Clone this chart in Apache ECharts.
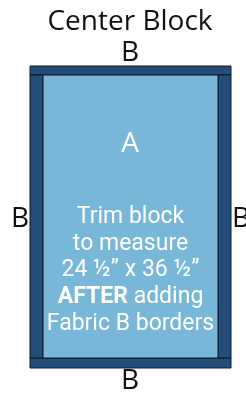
<!DOCTYPE html>
<html>
<head>
<meta charset="utf-8">
<script src="https://cdn.jsdelivr.net/npm/echarts@6/dist/echarts.min.js"></script>
<style>
  html, body { margin: 0; padding: 0; background: #fff; }
  #chart { width: 246px; height: 396px; }
</style>
</head>
<body>
<div id="chart"></div>
<script>
// block pieces in layout units: [x0, y0, x1, y1, fabric]
var pieces = [
    [0, 0, 201, 9, 'B'],
    [0, 292, 201, 302, 'B'],
    [0, 9, 13, 292, 'B'],
    [188, 9, 201, 292, 'B'],
    [13, 9, 188, 292, 'A']
];
var fabricColors = {A: '#79b7d9', B: '#234d7a'};

// labels: [x, y, text, size, color]
var labels = [
    [100, -44, 'Center Block', 28, '#111'],
    [100, -13, 'B', 28, '#111'],
    [100, 315, 'B', 28, '#111'],
    [-10, 153, 'B', 28, '#111'],
    [211, 153, 'B', 28, '#111'],
    [100, 78, 'A', 28, '#fff']
];
var noteLines = ['Trim block', 'to measure', '24 \u00bd\u201d x 36 \u00bd\u201d', '{b|AFTER} adding', 'Fabric B borders'];
var noteY = [151, 178, 204, 231, 258];

var chart = echarts.init(document.getElementById('chart'), null, {renderer: 'canvas'});

var option = {
    animation: false,
    grid: {left: 30, top: 66, width: 201, height: 302},
    xAxis: {type: 'value', min: 0, max: 201, show: false},
    yAxis: {type: 'value', min: 0, max: 302, inverse: true, show: false},
    series: [
        {
            type: 'custom',
            data: pieces,
            renderItem: function (params, api) {
                var p0 = api.coord([api.value(0), api.value(1)]);
                var p1 = api.coord([api.value(2), api.value(3)]);
                var d = pieces[params.dataIndex];
                return {
                    type: 'rect',
                    shape: {x: p0[0], y: p0[1], width: p1[0] - p0[0], height: p1[1] - p0[1]},
                    style: {fill: fabricColors[d[4]], stroke: '#0d1a26', lineWidth: 1}
                };
            }
        },
        {
            type: 'custom',
            clip: false,
            data: labels,
            renderItem: function (params, api) {
                var d = labels[params.dataIndex];
                var p = api.coord([d[0], d[1]]);
                return {
                    type: 'text',
                    x: p[0], y: p[1],
                    style: {
                        text: d[2], fill: d[4], fontSize: d[3],
                        fontFamily: 'Open Sans', align: 'center', verticalAlign: 'middle'
                    }
                };
            }
        },
        {
            type: 'custom',
            clip: false,
            data: noteY,
            renderItem: function (params, api) {
                var i = params.dataIndex;
                var p = api.coord([100.5, noteY[i]]);
                return {
                    type: 'text',
                    x: p[0], y: p[1],
                    style: {
                        text: noteLines[i], fill: '#fff', fontSize: 23,
                        fontFamily: 'Roboto', align: 'center', verticalAlign: 'middle',
                        rich: {b: {fontWeight: 'bold', fontSize: 23, fontFamily: 'Roboto', fill: '#fff'}}
                    }
                };
            }
        }
    ]
};

chart.setOption(option);
</script>
</body>
</html>
